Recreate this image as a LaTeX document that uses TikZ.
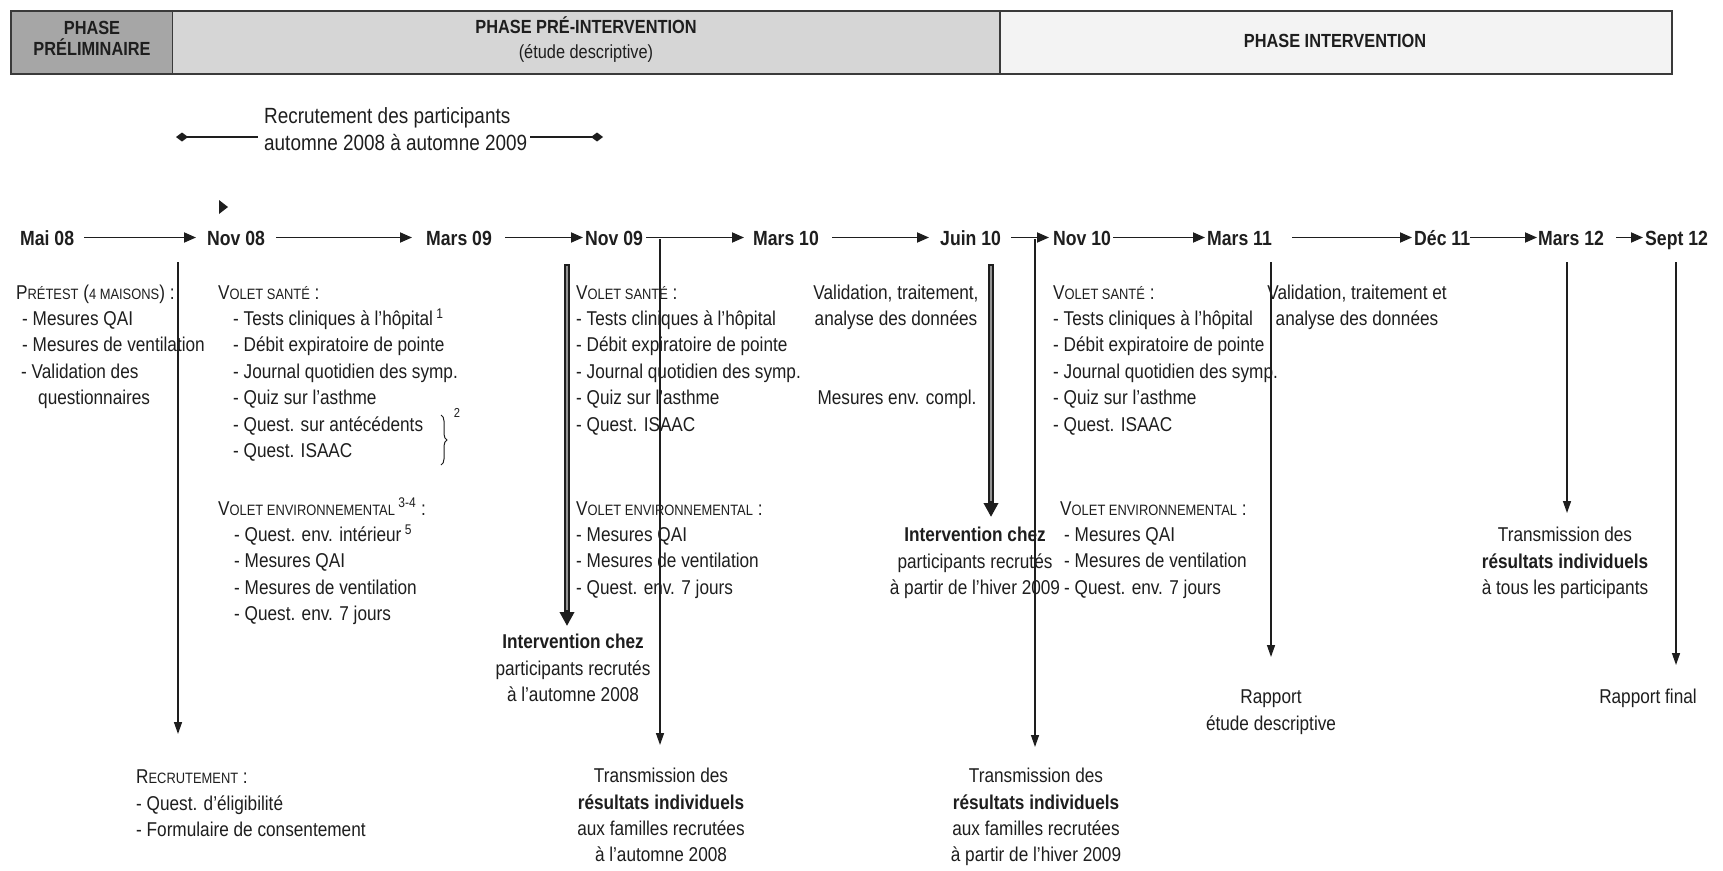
\documentclass[tikz,border=0pt]{standalone}
\usepackage{fontspec}
\setmainfont[FakeStretch=0.86]{Liberation Sans}
\usetikzlibrary{arrows.meta,decorations.pathreplacing}
\definecolor{ink}{HTML}{1E1E1E}
\definecolor{phA}{HTML}{A6A6A6}
\definecolor{phB}{HTML}{D6D6D6}
\definecolor{phC}{HTML}{F3F3F3}
\definecolor{frame}{HTML}{3A3A3A}
\newcommand\bodyfont{\fontsize{20}{26.4}\selectfont}
\newcommand\datefont{\fontsize{20.5}{24}\selectfont\bfseries}
\newcommand\hdrfont{\fontsize{19}{22}\selectfont\bfseries}
\newcommand\hdrfontr{\fontsize{19}{22}\selectfont}
\newcommand\recfont{\fontsize{22}{26.5}\selectfont}
\newcommand\smc[1]{{\fontsize{15}{15}\selectfont #1}}
\begin{document}
\begin{tikzpicture}[x=1pt,y=-1pt,
  blk/.style={inner sep=0pt, anchor=north west, align=left, font=\bodyfont, text=ink},
  cblk/.style={inner sep=0pt, anchor=north, align=center, font=\bodyfont, text=ink},
  datelbl/.style={inner sep=0pt, anchor=base west, font=\datefont, text=ink, text height=15pt, text depth=0pt},
  tl/.style={draw=ink, line width=1.8pt, -{Triangle[length=12pt,width=10pt]}},
  vl/.style={draw=ink, line width=1.4pt, -{Triangle[length=12pt,width=8pt]}},
  dbl/.style={draw=ink, line width=6pt, -{Triangle[length=14pt,width=14pt]}},
  dblin/.style={draw=gray!85, line width=2.4pt},
  hdrtxt/.style={inner sep=0pt, anchor=base, font=\hdrfont, text=ink},
  phbox/.style={draw=frame, line width=1.5pt},
]
\useasboundingbox (0,0) rectangle (1723,870);
\fill[white] (0,0) rectangle (1723,870);

% header
\draw[phbox, fill=phA] (11,11) rectangle (172.5,74);
\draw[phbox, fill=phB] (172.5,11) rectangle (1000,74);
\draw[phbox, fill=phC] (1000,11) rectangle (1672,74);
\draw[draw=frame, line width=2.5pt] (11,11) rectangle (1672,74);
\node[hdrtxt] (h1a) at (92,34) {PHASE};
\node[hdrtxt] (h1b) at (92,55) {PRÉLIMINAIRE};
\node[hdrtxt] (h2a) at (586,33) {PHASE PRÉ-INTERVENTION};
\node[hdrtxt, font=\hdrfontr] (h2b) at (586,58) {(étude descriptive)};
\node[hdrtxt] (h3) at (1335,47) {PHASE INTERVENTION};

% recruitment period
\node[inner sep=0pt, anchor=north west, align=left, font=\recfont, text=ink] (rec) at (264,105)
  {\strut Recrutement des participants\\automne 2008 à automne 2009};
\coordinate (rl) at (176,137);
\coordinate (rr) at (603,137);
\draw[draw=ink, line width=1.6pt, {Diamond[length=12pt,width=9pt]}-] (rl) -- ([xshift=-6pt]rl -| rec.west);
\draw[draw=ink, line width=1.6pt, -{Diamond[length=12pt,width=9pt]}] ([xshift=3pt]rr -| rec.east) -- (rr);

% stray arrowhead
\fill[ink] (219,200) -- (228,207) -- (219,214) -- cycle;

% timeline
\node[datelbl] (d1) at (20,245) {Mai 08};
\node[datelbl] (d2) at (207,245) {Nov 08};
\node[datelbl] (d3) at (426,245) {Mars 09};
\node[datelbl] (d4) at (585,245) {Nov 09};
\node[datelbl] (d5) at (753,245) {Mars 10};
\node[datelbl] (d6) at (940,245) {Juin 10};
\node[datelbl] (d7) at (1053,245) {Nov 10};
\node[datelbl] (d8) at (1207,245) {Mars 11};
\node[datelbl] (d9) at (1414,245) {Déc 11};
\node[datelbl] (d10) at (1538,245) {Mars 12};
\node[datelbl] (d11) at (1645,245) {Sept 12};
\draw[tl] ([xshift=10pt]d1.east) -- ([xshift=-11pt]d2.west);
\draw[tl] ([xshift=11pt]d2.east) -- ([xshift=-14pt]d3.west);
\draw[tl] ([xshift=13pt]d3.east) -- ([xshift=-2pt]d4.west);
\draw[tl] ([xshift=3pt]d4.east) -- ([xshift=-9pt]d5.west);
\draw[tl] ([xshift=13pt]d5.east) -- ([xshift=-11pt]d6.west);
\draw[tl] ([xshift=10pt]d6.east) -- ([xshift=-4pt]d7.west);
\draw[tl] ([xshift=2pt]d7.east) -- ([xshift=-2pt]d8.west);
\draw[tl] ([xshift=20pt]d8.east) -- ([xshift=-2pt]d9.west);
\draw[tl] ([xshift=0pt]d9.east) -- ([xshift=-1pt]d10.west);
\draw[tl] ([xshift=12pt]d10.east) -- ([xshift=-2pt]d11.west);

% text blocks
\node[blk] (pre) at (16,280.5) {\strut P\smc{RÉTEST} (\smc{4 MAISONS}) :\\
  \hspace*{6pt}- Mesures QAI\\
  \hspace*{6pt}- Mesures de ventilation\\
  \hspace*{5pt}- Validation des\\
  \hspace*{22pt}questionnaires};

\node[blk] (vs1) at (218,280.5) {\strut V\smc{OLET SANTÉ} :\\
  \hspace*{15pt}- Tests cliniques à l'hôpital\,\textsuperscript{1}\\
  \hspace*{15pt}- Débit expiratoire de pointe\\
  \hspace*{15pt}- Journal quotidien des symp.\\
  \hspace*{15pt}- Quiz sur l'asthme\\
  \hspace*{15pt}- Quest. sur antécédents\\
  \hspace*{15pt}- Quest. ISAAC};
\draw[draw=ink, line width=1pt, decorate, decoration={brace, amplitude=6pt}] (441,415) -- (441,465);
\node[inner sep=0pt, font=\fontsize{13}{13}\selectfont, text=ink] (sup2) at (457,413) {2};

\node[blk] (ve1) at (218,496.5) {\strut V\smc{OLET ENVIRONNEMENTAL}\,\textsuperscript{3-4} :\\
  \hspace*{16pt}- Quest. env. intérieur\,\textsuperscript{5}\\
  \hspace*{16pt}- Mesures QAI\\
  \hspace*{16pt}- Mesures de ventilation\\
  \hspace*{16pt}- Quest. env. 7 jours};

\node[blk] (vs2) at (576,280.5) {\strut V\smc{OLET SANTÉ} :\\
  - Tests cliniques à l'hôpital\\
  - Débit expiratoire de pointe\\
  - Journal quotidien des symp.\\
  - Quiz sur l'asthme\\
  - Quest. ISAAC};
\node[blk] (ve2) at (576,496.5) {\strut V\smc{OLET ENVIRONNEMENTAL} :\\
  - Mesures QAI\\
  - Mesures de ventilation\\
  - Quest. env. 7 jours};

\node[blk] (vs3) at (1053,280.5) {\strut V\smc{OLET SANTÉ} :\\
  - Tests cliniques à l'hôpital\\
  - Débit expiratoire de pointe\\
  - Journal quotidien des symp.\\
  - Quiz sur l'asthme\\
  - Quest. ISAAC};
\node[blk] (ve3) at (1060,496.5) {\strut V\smc{OLET ENVIRONNEMENTAL} :\\
  \hspace*{4pt}- Mesures QAI\\
  \hspace*{4pt}- Mesures de ventilation\\
  \hspace*{4pt}- Quest. env. 7 jours};

\node[cblk] (int1) at (573,630) {\strut\textbf{Intervention chez}\\participants recrutés\\à l'automne 2008};
\node[cblk] (tr1) at (661,764) {\strut Transmission des\\\textbf{résultats individuels}\\aux familles recrutées\\à l'automne 2008};
\node[cblk] (val1) at (896,280.5) {\strut Validation, traitement,\\analyse des données};
\node[cblk] (mes) at (897,385.5) {\strut Mesures env. compl.};
\node[cblk] (int2) at (975,523) {\strut\textbf{Intervention chez}\\participants recrutés\\à partir de l'hiver 2009};
\node[cblk] (tr2) at (1036,764) {\strut Transmission des\\\textbf{résultats individuels}\\aux familles recrutées\\à partir de l'hiver 2009};
\node[cblk] (val2) at (1357,280.5) {\strut Validation, traitement et\\analyse des données};
\node[cblk] (rap1) at (1271,685) {\strut Rapport\\étude descriptive};
\node[cblk] (tr3) at (1565,523) {\strut Transmission des\\\textbf{résultats individuels}\\à tous les participants};
\node[cblk] (rap2) at (1648,685) {\strut Rapport final};
\node[blk] (recr) at (136,765) {\strut R\smc{ECRUTEMENT} :\\- Quest. d'éligibilité\\- Formulaire de consentement};

% vertical connectors
\coordinate (v1s) at (178,262);
\coordinate (v2s) at (567,264);
\coordinate (v3s) at (660,239);
\coordinate (v4s) at (991,264);
\coordinate (v5s) at (1035,239);
\coordinate (v6s) at (1271,262);
\coordinate (v7s) at (1567,262);
\coordinate (v8s) at (1676,262);
\draw[vl, shorten >=31pt] (v1s) -- (v1s |- recr.north);
\draw[dbl, shorten >=4pt] (v2s) -- (v2s |- int1.north);
\draw[dblin, shorten >=20pt, shorten <=1.5pt] (v2s) -- (v2s |- int1.north);
\draw[vl, shorten >=19pt] (v3s) -- (v3s |- tr1.north);
\draw[dbl, shorten >=6pt] (v4s) -- (v4s |- int2.north);
\draw[dblin, shorten >=22pt, shorten <=1.5pt] (v4s) -- (v4s |- int2.north);
\draw[vl, shorten >=17pt] (v5s) -- (v5s |- tr2.north);
\draw[vl, shorten >=28pt] (v6s) -- (v6s |- rap1.north);
\draw[vl, shorten >=10pt] (v7s) -- (v7s |- tr3.north);
\draw[vl, shorten >=20pt] (v8s) -- (v8s |- rap2.north);
\end{tikzpicture}
\end{document}
